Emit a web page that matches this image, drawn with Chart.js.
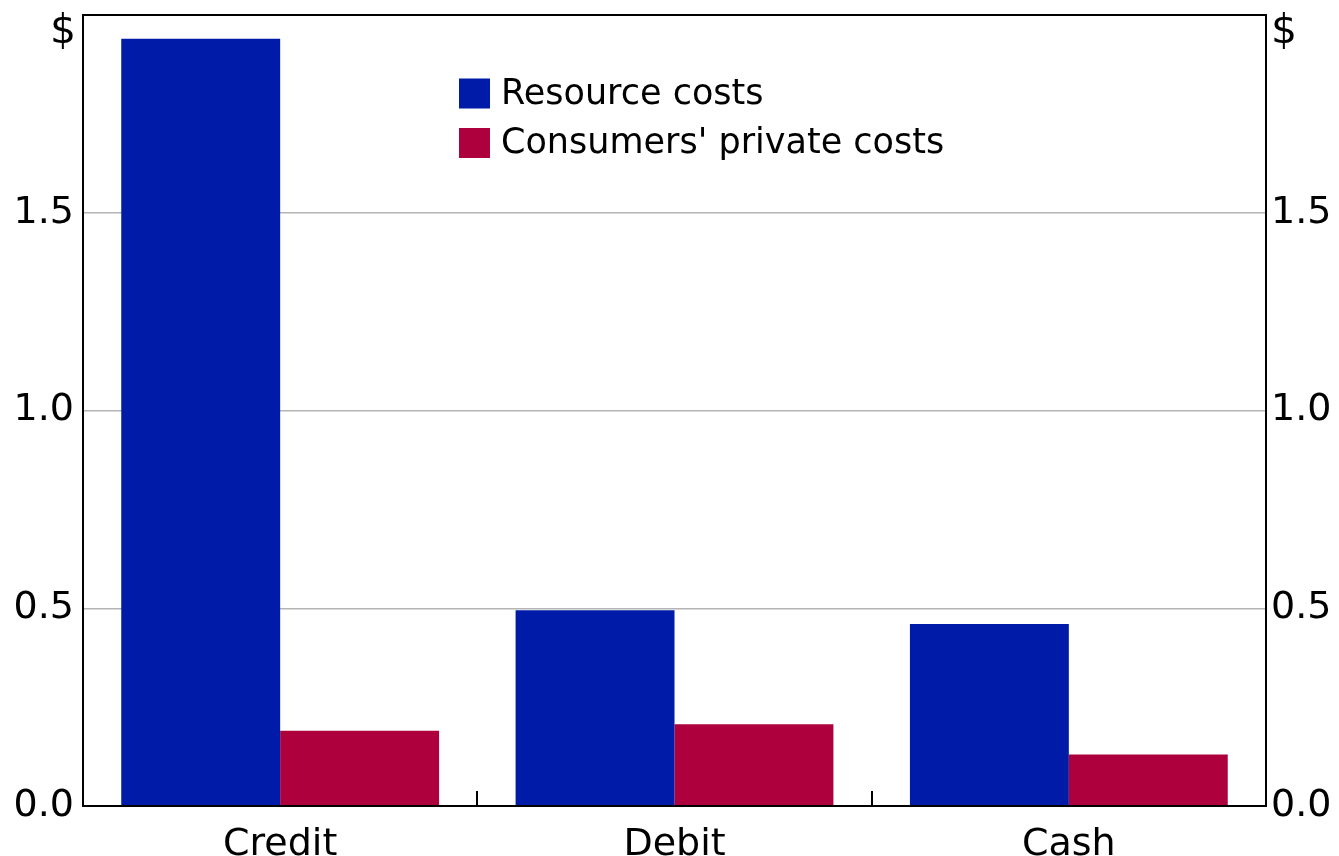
<!DOCTYPE html>
<html>
<head>
<meta charset="utf-8">
<script src="https://cdn.jsdelivr.net/npm/chart.js@4/dist/chart.umd.min.js"></script>
<style>
  html, body { margin: 0; padding: 0; background: #fff; }
  #wrap { width: 1339px; height: 856px; position: relative; }
</style>
</head>
<body>
<div id="wrap"><canvas id="c" width="1339" height="856"></canvas></div>
<script>
const categories = ['Credit', 'Debit', 'Cash'];
const resourceCosts = [1.94, 0.495, 0.46];
const privateCosts = [0.19, 0.207, 0.13];
const seriesLabels = ['Resource costs', "Consumers' private costs"];
const yTicks = [0, 0.5, 1.0, 1.5, 2.0];
const unitLabel = '$';

const FONT = 'DejaVu Sans';
const BLUE = '#001ba8';
const RED = '#ad003c';

const framePlugin = {
  id: 'frame',
  afterDatasetsDraw(chart) {
    const ctx = chart.ctx, a = chart.chartArea, xs = chart.scales.x;
    ctx.save();
    ctx.strokeStyle = '#000';
    ctx.lineWidth = 2;
    for (let i = 1; i < categories.length; i++) {
      const px = Math.round((xs.getPixelForTick(i - 1) + xs.getPixelForTick(i)) / 2);
      ctx.beginPath();
      ctx.moveTo(px, a.bottom);
      ctx.lineTo(px, a.bottom - 15);
      ctx.stroke();
    }
    ctx.strokeRect(a.left, a.top, a.right - a.left, a.bottom - a.top);
    ctx.fillStyle = '#000';
    ctx.font = '41px "' + FONT + '"';
    ctx.textBaseline = 'middle';
    ctx.textAlign = 'right';
    ctx.fillText(unitLabel, a.left - 7, 32);
    ctx.textAlign = 'left';
    ctx.fillText(unitLabel, a.right + 5, 32);
    ctx.font = '35px "' + FONT + '"';
    chart.data.datasets.forEach((ds, i) => {
      const cy = 93.5 + i * 49.5;
      ctx.fillStyle = ds.backgroundColor;
      ctx.fillRect(459, cy - 15, 31, 30);
      ctx.fillStyle = '#000';
      ctx.textAlign = 'left';
      ctx.textBaseline = 'middle';
      ctx.fillText(ds.label, 501, cy + 1);
    });
    ctx.restore();
  }
};

const tickFmt = v => (v >= 2 ? '' : Number(v).toFixed(1));

new Chart(document.getElementById('c'), {
  type: 'bar',
  data: {
    labels: categories,
    datasets: [
      { label: seriesLabels[0], data: resourceCosts, backgroundColor: BLUE, borderWidth: 0 },
      { label: seriesLabels[1], data: privateCosts, backgroundColor: RED, borderWidth: 0 }
    ]
  },
  options: {
    responsive: false,
    animation: false,
    devicePixelRatio: 1,
    layout: { padding: { top: 15, left: 0, right: 0, bottom: 0 } },
    categoryPercentage: 0.806,
    barPercentage: 1.0,
    plugins: {
      legend: { display: false },
      tooltip: { enabled: false },
      title: { display: false }
    },
    scales: {
      x: {
        grid: { display: false },
        border: { display: false },
        ticks: { color: '#000', font: { family: FONT, size: 38 }, padding: 8, maxRotation: 0 },
        afterFit(s) { s.height = 50; s.paddingLeft = 0; s.paddingRight = 0; }
      },
      y: {
        position: 'left',
        min: 0, max: 2,
        afterBuildTicks(s) { s.ticks = yTicks.map(v => ({ value: v })); },
        grid: {
          drawTicks: false,
          color: ctx => (ctx.tick && (ctx.tick.value === 0 || ctx.tick.value === 2)) ? 'rgba(0,0,0,0)' : '#b4b4b4',
          lineWidth: 1.5
        },
        border: { display: false },
        ticks: { color: '#000', font: { family: FONT, size: 38 }, padding: 9, callback: tickFmt },
        afterFit(s) { s.width = 83; s.paddingTop = 0; s.paddingBottom = 0; }
      },
      y2: {
        position: 'right',
        min: 0, max: 2,
        afterBuildTicks(s) { s.ticks = yTicks.map(v => ({ value: v })); },
        grid: { display: false, drawTicks: false },
        border: { display: false },
        ticks: { color: '#000', font: { family: FONT, size: 38 }, padding: 5, callback: tickFmt },
        afterFit(s) { s.width = 73; s.paddingTop = 0; s.paddingBottom = 0; }
      }
    }
  },
  plugins: [framePlugin]
});
</script>
</body>
</html>
